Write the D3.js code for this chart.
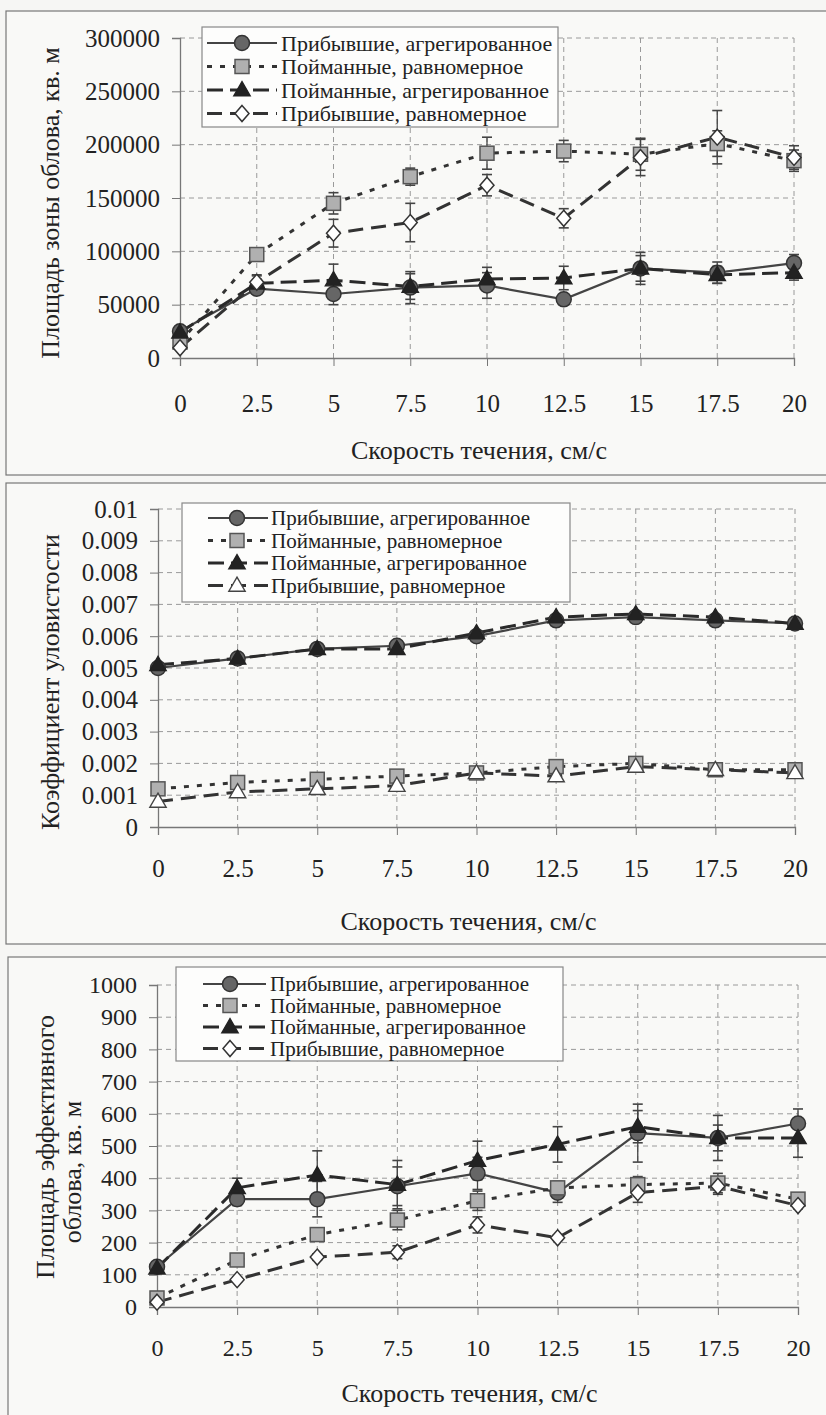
<!DOCTYPE html>
<html>
<head>
<meta charset="utf-8">
<script src="https://cdn.jsdelivr.net/npm/d3@7"></script>
<style>
  body { margin: 0; background: #f6f6f4; }
  svg { display: block; font-family: "Liberation Serif", "Times New Roman", "DejaVu Serif", serif; }
</style>
</head>
<body>
<svg id="page" width="826" height="1415"></svg>
<script>
// flow speed, cm/s
var speeds = [0, 2.5, 5, 7.5, 10, 12.5, 15, 17.5, 20];
var legendNames = ['Прибывшие, агрегированное', 'Пойманные, равномерное', 'Пойманные, агрегированное', 'Прибывшие, равномерное'];
var xTitle = 'Скорость течения, см/с';

// chart 1 - catch zone area
var area_arrAgg = [25000, 65000, 60000, 66000, 68000, 55000, 84000, 80000, 89000];
var area_arrAggErr = [3000, 5000, 10000, 15000, 12000, 3000, 15000, 10000, 8000];
var area_caughtUni = [15000, 97000, 145000, 170000, 192000, 194000, 191000, 201000, 185000];
var area_caughtUniErr = [3000, 6000, 10000, 8000, 15000, 10000, 15000, 12000, 10000];
var area_caughtAgg = [24000, 70000, 73000, 67000, 74000, 75000, 84000, 78000, 80000];
var area_caughtAggErr = [3000, 8000, 15000, 12000, 11000, 11000, 12000, 8000, 7000];
var area_arrUni = [9500, 71000, 117000, 127000, 162000, 131000, 188000, 207000, 188000];
var area_arrUniErr = [2000, 6000, 13000, 18000, 10000, 9000, 17000, 25000, 11000];
var areaTicks = [0, 50000, 100000, 150000, 200000, 250000, 300000];

// chart 2 - catchability
var coef_arrAgg = [0.0050, 0.0053, 0.0056, 0.0057, 0.0060, 0.0065, 0.0066, 0.0065, 0.0064];
var coef_caughtUni = [0.0012, 0.0014, 0.0015, 0.0016, 0.0017, 0.0019, 0.0020, 0.0018, 0.0018];
var coef_caughtAgg = [0.0051, 0.0053, 0.0056, 0.0056, 0.0061, 0.0066, 0.0067, 0.0066, 0.0064];
var coef_arrUni = [0.0008, 0.0011, 0.0012, 0.0013, 0.0017, 0.0016, 0.0019, 0.0018, 0.0017];
var coefTicks = [0, 0.001, 0.002, 0.003, 0.004, 0.005, 0.006, 0.007, 0.008, 0.009, 0.01];

// chart 3 - effective catch area
var eff_arrAgg = [125, 335, 335, 375, 415, 355, 540, 525, 570];
var eff_arrAggErr = [10, 20, 55, 60, 50, 30, 90, 40, 45];
var eff_caughtUni = [28, 146, 225, 270, 330, 370, 380, 385, 335];
var eff_caughtUniErr = [5, 10, 15, 30, 30, 20, 25, 30, 15];
var eff_caughtAgg = [120, 370, 410, 380, 455, 505, 560, 525, 525];
var eff_caughtAggErr = [10, 30, 75, 75, 60, 55, 50, 70, 60];
var eff_arrUni = [15, 85, 155, 170, 255, 215, 355, 375, 315];
var eff_arrUniErr = [5, 8, 10, 20, 25, 8, 30, 25, 10];
var effTicks = [0, 100, 200, 300, 400, 500, 600, 700, 800, 900, 1000];

var svg = d3.select('#page');

// line + marker styles for the 4 series
var styles = [
  { dash: null, width: 2.2, color: '#444', marker: 'circle' },
  { dash: '5,8', width: 3, color: '#333', marker: 'square' },
  { dash: '16,7', width: 3, color: '#2a2a2a', marker: 'triangle' },
  { dash: '15,8', width: 3, color: '#333', marker: 'diamond' }
];

function drawMarker(g, type, x, y)
{
  if(type == 'circle')
  {
    g.append('circle').attr('cx', x).attr('cy', y).attr('r', 7.5)
      .attr('fill', '#666').attr('stroke', '#333').attr('stroke-width', 1.5);
  }
  else if(type == 'square')
  {
    g.append('rect').attr('x', x - 7).attr('y', y - 7).attr('width', 14).attr('height', 14)
      .attr('fill', '#b0b0b0').attr('stroke', '#555').attr('stroke-width', 1.5);
  }
  else if(type == 'triangle' || type == 'opentriangle')
  {
    g.append('path').attr('d', d3.symbol(d3.symbolTriangle, 115)())
      .attr('transform', 'translate(' + x + ',' + (y + 1) + ')')
      .attr('fill', type == 'triangle' ? '#222' : '#fff')
      .attr('stroke', type == 'triangle' ? '#222' : '#444').attr('stroke-width', 1.4);
  }
  else if(type == 'diamond')
  {
    g.append('path').attr('d', 'M0,-8L7,0L0,8L-7,0Z')
      .attr('transform', 'translate(' + x + ',' + y + ')')
      .attr('fill', '#fff').attr('stroke', '#333').attr('stroke-width', 1.5);
  }
}

function drawChart(c)
{
  var g = svg.append('g');

  // frame
  g.append('rect').attr('x', c.frame[0]).attr('y', c.frame[1])
    .attr('width', c.frame[2]).attr('height', c.frame[3])
    .attr('fill', '#f9f9f7').attr('stroke', '#777').attr('stroke-width', 1.2);

  var x = d3.scaleLinear().domain([0, 20]).range([c.left, c.right]);
  var y = d3.scaleLinear().domain([0, c.yMax]).range([c.bottom, c.top]);

  // grid
  g.append('g').selectAll('line').data(c.yTicks.slice(1)).join('line')
    .attr('x1', c.left).attr('x2', c.right)
    .attr('y1', d => y(d)).attr('y2', d => y(d))
    .attr('stroke', '#9a9a9a').attr('stroke-width', 1).attr('stroke-dasharray', '5,4');
  g.append('g').selectAll('line').data(speeds.slice(1)).join('line')
    .attr('x1', d => x(d)).attr('x2', d => x(d))
    .attr('y1', c.top).attr('y2', c.bottom)
    .attr('stroke', '#9a9a9a').attr('stroke-width', 1).attr('stroke-dasharray', '5,4');

  // axes
  var yAxis = d3.axisLeft(y).tickValues(c.yTicks).tickFormat(c.fmt).tickSize(8).tickPadding(c.yPad);
  var ya = g.append('g').attr('transform', 'translate(' + c.left + ',0)').call(yAxis);
  var xAxis = d3.axisBottom(x).tickValues(speeds).tickFormat(d3.format('~g')).tickSize(8).tickPadding(c.xPad);
  var xa = g.append('g').attr('transform', 'translate(0,' + c.bottom + ')').call(xAxis);
  [ya, xa].forEach(a => {
    a.attr('font-family', null);
    a.select('.domain').attr('stroke', '#777').attr('stroke-width', 1.3);
    a.selectAll('.tick line').attr('stroke', '#777');
    a.selectAll('.tick text').attr('font-size', c.tickSize).attr('fill', '#222');
  });

  // axis titles
  g.append('text').attr('x', (c.left + c.right) / 2 - 8).attr('y', c.xTitleY)
    .attr('text-anchor', 'middle').attr('font-size', 26).attr('fill', '#222').text(xTitle);
  c.yTitle.forEach((t, i) => {
    g.append('text')
      .attr('transform', 'translate(' + c.yTitleX[i] + ',' + c.yTitleY[i] + ') rotate(-90)')
      .attr('text-anchor', 'middle').attr('dominant-baseline', 'central')
      .attr('font-size', 26).attr('fill', '#222').text(t);
  });

  // series lines
  var line = d3.line().x((d, i) => x(speeds[i])).y(d => y(d));
  c.series.forEach((s, k) => {
    var st = styles[k];
    g.append('path').datum(s.values).attr('d', line)
      .attr('fill', 'none').attr('stroke', st.color).attr('stroke-width', st.width)
      .attr('stroke-dasharray', st.dash);
  });

  // error bars
  c.series.forEach((s, k) => {
    if(!s.err) return;
    s.values.forEach((v, i) => {
      var cx = x(speeds[i]);
      var y1 = y(v - s.err[i]), y2 = y(v + s.err[i]);
      g.append('line').attr('x1', cx).attr('x2', cx).attr('y1', y1).attr('y2', y2)
        .attr('stroke', '#444').attr('stroke-width', 1.3);
      [y1, y2].forEach(yy => {
        g.append('line').attr('x1', cx - 5).attr('x2', cx + 5).attr('y1', yy).attr('y2', yy)
          .attr('stroke', '#444').attr('stroke-width', 1.6);
      });
    });
  });

  // markers
  c.series.forEach((s, k) => {
    var type = c.markers[k];
    s.values.forEach((v, i) => drawMarker(g, type, x(speeds[i]), y(v)));
  });

  // legend
  var L = c.legend;
  g.append('rect').attr('x', L.x).attr('y', L.y).attr('width', L.w).attr('height', L.h)
    .attr('fill', '#fdfdfc').attr('stroke', '#888').attr('stroke-width', 1.2);
  legendNames.forEach((name, k) => {
    var st = styles[k];
    var ry = L.row0 + k * L.step;
    g.append('line').attr('x1', L.s0).attr('x2', L.s1).attr('y1', ry).attr('y2', ry)
      .attr('stroke', st.color).attr('stroke-width', st.width).attr('stroke-dasharray', st.dash);
    drawMarker(g, c.markers[k], L.m, ry);
    g.append('text').attr('x', L.tx).attr('y', ry).attr('dominant-baseline', 'central')
      .attr('font-size', L.font).attr('fill', '#222').text(name);
  });
}

drawChart({
  frame: [6, 11, 840, 464],
  left: 180, right: 794, top: 38, bottom: 358,
  yMax: 300000, yTicks: areaTicks, fmt: d3.format('d'), yPad: 12, xPad: 28, tickSize: 25,
  xTitleY: 459,
  yTitle: ['Площадь зоны облова, кв. м'], yTitleX: [50], yTitleY: [203],
  markers: ['circle', 'square', 'triangle', 'diamond'],
  series: [
    { values: area_arrAgg, err: area_arrAggErr },
    { values: area_caughtUni, err: area_caughtUniErr },
    { values: area_caughtAgg, err: area_caughtAggErr },
    { values: area_arrUni, err: area_arrUniErr }
  ],
  legend: { x: 202, y: 27, w: 356, h: 100, row0: 43, step: 23.5, s0: 207, s1: 277, m: 242, tx: 281, font: 22 }
});

drawChart({
  frame: [6, 483, 840, 461],
  left: 158, right: 795, top: 509, bottom: 827,
  yMax: 0.01, yTicks: coefTicks, fmt: d => d === 0 ? '0' : d3.format('.3~f')(d), yPad: 12, xPad: 24, tickSize: 25,
  xTitleY: 930,
  yTitle: ['Коэффициент уловистости'], yTitleX: [50], yTitleY: [682],
  markers: ['circle', 'square', 'triangle', 'opentriangle'],
  series: [
    { values: coef_arrAgg },
    { values: coef_caughtUni },
    { values: coef_caughtAgg },
    { values: coef_arrUni }
  ],
  legend: { x: 182, y: 503, w: 388, h: 99, row0: 518, step: 22.5, s0: 208, s1: 268, m: 237, tx: 271, font: 21 }
});

drawChart({
  frame: [8, 957, 840, 470],
  left: 157, right: 798, top: 985, bottom: 1307,
  yMax: 1000, yTicks: effTicks, fmt: d3.format('d'), yPad: 12, xPad: 24, tickSize: 24,
  xTitleY: 1402,
  yTitle: ['Площадь эффективного', 'облова, кв. м'], yTitleX: [45, 72], yTitleY: [1147, 1172],
  markers: ['circle', 'square', 'triangle', 'diamond'],
  series: [
    { values: eff_arrAgg, err: eff_arrAggErr },
    { values: eff_caughtUni, err: eff_caughtUniErr },
    { values: eff_caughtAgg, err: eff_caughtAggErr },
    { values: eff_arrUni, err: eff_arrUniErr }
  ],
  legend: { x: 176, y: 967, w: 387, h: 94, row0: 984, step: 21.5, s0: 203, s1: 266, m: 230, tx: 270, font: 21 }
});
</script>
</body>
</html>
